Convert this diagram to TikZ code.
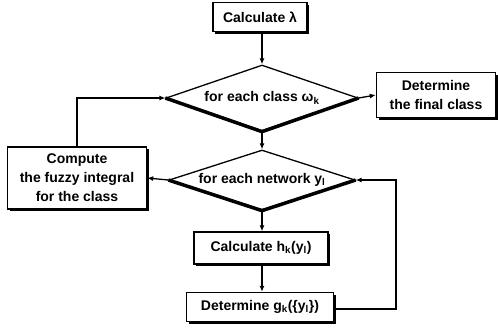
\documentclass[tikz,border=0pt]{standalone}
\usepackage{fontspec}
\setmainfont{Liberation Sans}
\usetikzlibrary{shapes.geometric,shadows,arrows.meta}
\tikzset{
  stepbox/.style={draw,line width=1.4pt,fill=white,align=center,inner sep=2pt,
    drop shadow={shadow xshift=2pt,shadow yshift=-2pt,opacity=1,fill=black}},
  choice/.style={draw,line width=1.3pt,shape=diamond,aspect=2.9,inner sep=0pt},
  flow/.style={line width=1.3pt,-{Latex[length=6pt,width=5pt]}}
}
\begin{document}
\begin{tikzpicture}[x=1pt,y=-1pt,font=\fontsize{14}{19}\selectfont\bfseries]
\useasboundingbox (0,0) rectangle (498,330);
\node[stepbox,minimum width=94pt,minimum height=29pt] (lam) at (260,17) {Calculate λ};
\node[choice,minimum width=192pt,minimum height=66pt] (d1) at (262,98) {for each class ω\textsubscript{k}};
\node[stepbox,minimum width=119pt,minimum height=45pt] (final) at (436,95) {Determine\\the final class};
\node[choice,minimum width=186pt,minimum height=60pt] (d2) at (262,180) {for each network y\textsubscript{l}};
\node[stepbox,minimum width=139pt,minimum height=62pt] (fuzzy) at (77,178) {Compute\\the fuzzy integral\\for the class};
\node[stepbox,minimum width=134pt,minimum height=32pt] (calch) at (261,248) {Calculate h\textsubscript{k}(y\textsubscript{l})};
\node[stepbox,minimum width=147pt,minimum height=29pt] (detg) at (260,307) {Determine g\textsubscript{k}(\{y\textsubscript{l}\})};
\coordinate (back) at (396,309);
% shaded lower edges of the two loops
\draw[line width=3.5pt,line join=round] (d1.west) -- (d1.south) -- (d1.east);
\draw[line width=3.5pt,line join=round] (d2.west) -- (d2.south) -- (d2.east);
\draw[flow] (lam.south -| d1.north) -- (d1.north);
\draw[flow] (d1.east) -- (final.west);
\draw[flow] (d1.south) -- (d2.north);
\draw[flow] (d2.west) -- (fuzzy.east);
\draw[flow] (fuzzy.north) |- (d1.west);
\draw[flow] (d2.south) -- (calch.north -| d2.south);
\draw[flow] (calch.south -| d2.south) -- (detg.north -| d2.south);
\draw[flow] (detg.east |- back) -- (back) |- (d2.east);
\end{tikzpicture}
\end{document}
